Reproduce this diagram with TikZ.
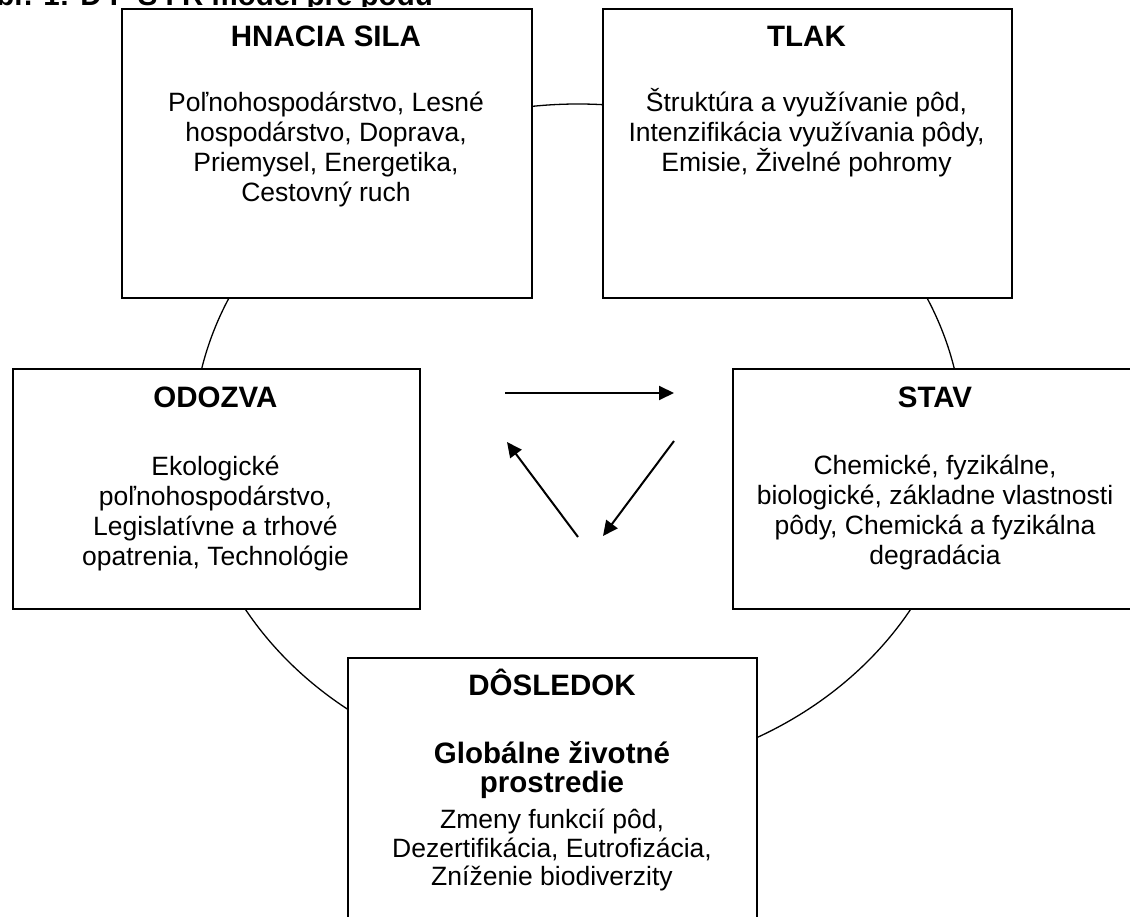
\documentclass[tikz,border=0pt]{standalone}
\usepackage{fontspec}
\setmainfont{Liberation Sans}
\usetikzlibrary{arrows.meta}
\begin{document}
\begin{tikzpicture}[x=1pt,y=-1pt,
  box/.style={draw, line width=2pt, fill=white, inner sep=0pt, anchor=north west},
  ttl/.style={font=\bfseries\fontsize{29.5}{34}\selectfont, anchor=base, inner sep=0pt},
  txt/.style={font=\fontsize{26.5}{30}\selectfont, anchor=base, inner sep=0pt},
  arr/.style={line width=2pt, -{Triangle[length=15pt,width=14pt]}},
  ring/.style={line width=1.3pt}
]
\useasboundingbox (0,0) rectangle (1130,917);
\fill[white] (0,0) rectangle (1130,917);
\clip (0,0) rectangle (1130,917);

% caption (cut off at the top edge)
\begin{scope}
  \clip (0,0) rectangle (1130,6.3);
  \node[ttl, anchor=base east] (cap) at (433,5.5) {Obr. 1: D P S I R model pre pôdu};
\end{scope}

% ring
\draw[ring] (578,440) ellipse [x radius=385, y radius=336];

% boxes
\node[box, minimum width=410pt, minimum height=289pt] (hs) at (121,8) {};
\node[box, minimum width=409pt, minimum height=289pt] (tl) at (602,8) {};
\node[box, minimum width=407pt, minimum height=240pt] (od) at (12,368) {};
\node[box, minimum width=406pt, minimum height=240pt] (st) at (732,368) {};
\node[box, minimum width=409pt, minimum height=300pt] (ds) at (347,657) {};

% HNACIA SILA
\node[ttl] (hsT) at (326,47) {HNACIA SILA};
\node[txt] (hs1) at (326,112) {Poľnohospodárstvo, Lesné};
\node[txt] (hs2) at (326,142) {hospodárstvo, Doprava,};
\node[txt] (hs3) at (326,172) {Priemysel, Energetika,};
\node[txt] (hs4) at (326,202) {Cestovný ruch};

% TLAK
\node[ttl] (tlT) at (806.5,47) {TLAK};
\node[txt] (tl1) at (806.5,112) {Štruktúra a využívanie pôd,};
\node[txt] (tl2) at (806.5,142) {Intenzifikácia využívania pôdy,};
\node[txt] (tl3) at (806.5,172) {Emisie, Živelné pohromy};

% ODOZVA
\node[ttl] (odT) at (215.5,407) {ODOZVA};
\node[txt] (od1) at (215.5,475) {Ekologické};
\node[txt] (od2) at (215.5,505) {poľnohospodárstvo,};
\node[txt] (od3) at (215.5,535) {Legislatívne a trhové};
\node[txt] (od4) at (215.5,565) {opatrenia, Technológie};

% STAV
\node[ttl] (stT) at (935,407) {STAV};
\node[txt] (st1) at (935,474) {Chemické, fyzikálne,};
\node[txt] (st2) at (935,504) {biologické, základne vlastnosti};
\node[txt] (st3) at (935,534) {pôdy, Chemická a fyzikálna};
\node[txt] (st4) at (935,564) {degradácia};

% DOSLEDOK
\node[ttl] (dsT) at (552,695) {DÔSLEDOK};
\node[ttl] (ds1) at (552,763) {Globálne životné};
\node[ttl] (ds2) at (552,792) {prostredie};
\node[txt] (ds3) at (552,828) {Zmeny funkcií pôd,};
\node[txt] (ds4) at (552,857) {Dezertifikácia, Eutrofizácia,};
\node[txt] (ds5) at (552,885) {Zníženie biodiverzity};

% arrows
\coordinate (a1s) at (505,393);
\coordinate (a1e) at (674,393);
\coordinate (a2s) at (674,441);
\coordinate (a2e) at (603,536);
\coordinate (a3s) at (578,537);
\coordinate (a3e) at (507,442);
\draw[arr] (a1s) -- (a1e);
\draw[arr] (a2s) -- (a2e);
\draw[arr] (a3s) -- (a3e);
\end{tikzpicture}
\end{document}
